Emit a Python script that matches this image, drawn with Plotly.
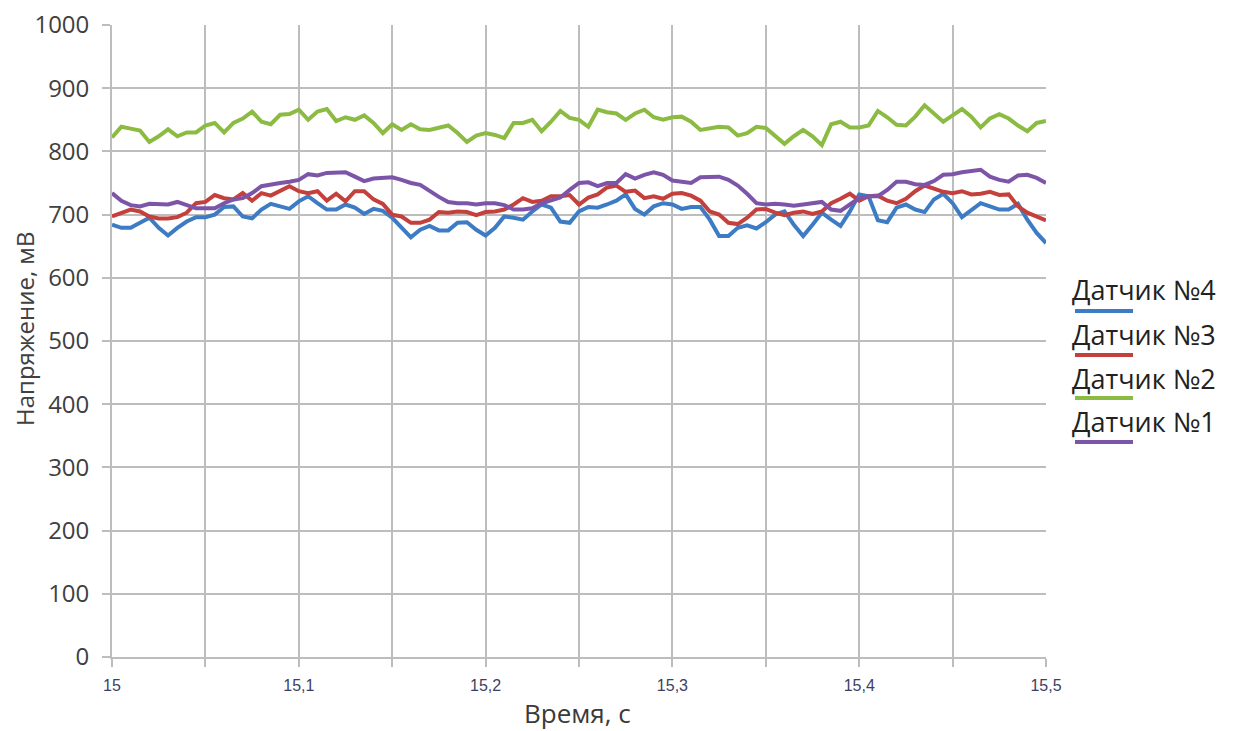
import numpy as np
import plotly.graph_objects as go

# Sampling times, s (step 5 ms)
time_s = [round(15.0 + 0.005 * i, 3) for i in range(101)]

# Sensor voltages, mV
sensor_4 = [684, 679, 679, 687, 695, 679, 667, 679, 689, 696,
            696, 700, 712, 713, 697, 694, 708, 717, 713, 709,
            721, 729, 718, 708, 708, 716, 711, 701, 709, 706,
            695, 679, 664, 676, 682, 675, 675, 687, 688, 676,
            667, 679, 697, 695, 692, 705, 716, 711, 689, 687,
            705, 712, 711, 716, 722, 732, 709, 700, 713, 718,
            716, 709, 712, 712, 692, 666, 666, 679, 683, 678,
            688, 700, 705, 684, 666, 684, 703, 692, 682, 705,
            732, 729, 691, 688, 711, 716, 708, 704, 724, 733,
            718, 696, 708, 718, 713, 708, 708, 717, 692, 671,
            655]

sensor_3 = [697, 703, 708, 705, 697, 694, 694, 696, 703, 718,
            720, 731, 726, 724, 734, 722, 734, 730, 737, 745,
            737, 734, 737, 722, 733, 721, 737, 737, 724, 717,
            700, 697, 687, 687, 692, 704, 703, 705, 704, 699,
            704, 705, 708, 716, 726, 720, 722, 729, 729, 731,
            716, 727, 732, 743, 746, 736, 738, 726, 729, 725,
            733, 734, 730, 722, 705, 700, 687, 685, 695, 708,
            709, 703, 699, 703, 705, 701, 705, 718, 725, 733,
            722, 729, 730, 722, 718, 725, 737, 746, 741, 736,
            734, 737, 732, 733, 736, 731, 732, 713, 703, 697,
            691]

sensor_2 = [822, 839, 836, 833, 815, 824, 835, 824, 830, 830,
            841, 845, 830, 845, 852, 863, 847, 843, 858, 859,
            866, 850, 863, 867, 848, 854, 850, 857, 845, 829,
            843, 834, 843, 835, 834, 838, 841, 829, 815, 825,
            829, 826, 821, 845, 845, 850, 832, 847, 864, 853,
            850, 839, 866, 862, 860, 850, 860, 866, 854, 850,
            854, 855, 847, 834, 837, 839, 838, 825, 829, 839,
            837, 824, 812, 824, 834, 824, 810, 843, 847, 838,
            838, 841, 864, 854, 842, 841, 855, 873, 860, 847,
            857, 867, 855, 838, 852, 859, 852, 841, 832, 845,
            848]

sensor_1 = [734, 722, 715, 713, 717, 716, 716, 720, 715, 710,
            710, 710, 718, 724, 726, 734, 745, 748, 750, 752,
            755, 764, 762, 766, 766, 767, 760, 753, 757, 758,
            759, 755, 750, 747, 737, 728, 720, 718, 718, 716,
            718, 718, 715, 708, 708, 710, 718, 722, 727, 739,
            750, 751, 745, 750, 750, 764, 757, 763, 767, 763,
            754, 752, 750, 759, 760, 760, 755, 746, 733, 718,
            716, 717, 716, 714, 716, 718, 720, 708, 706, 716,
            726, 729, 729, 739, 752, 752, 748, 747, 753, 763,
            764, 767, 769, 771, 760, 755, 752, 762, 763, 758,
            750]

series_names = ["Датчик №4", "Датчик №3", "Датчик №2", "Датчик №1"]
series_values = [sensor_4, sensor_3, sensor_2, sensor_1]
series_colors = ["#3d7cc4", "#c4403c", "#8cbb43", "#7d55a8"]

x_tick_vals = [15.0, 15.05, 15.1, 15.15, 15.2, 15.25, 15.3, 15.35, 15.4, 15.45, 15.5]
x_tick_text = ["15", "", "15,1", "", "15,2", "", "15,3", "", "15,4", "", "15,5"]
y_tick_vals = list(range(0, 1001, 100))

x_title = "Время, с"
y_title = "Напряжение, мВ"

# Figure geometry (pixels)
W, H = 1237, 731
L, R, T, B = 112, 191, 25, 74
PW, PH = W - L - R, H - T - B

def px_x(px):
    return (px - L) / PW

def px_y(py):
    return (H - B - py) / PH

fig = go.Figure()
# draw in order so that sensor 1 ends up on top
for name, vals, col in zip(series_names, series_values, series_colors):
    fig.add_trace(go.Scatter(
        x=time_s, y=vals, mode="lines", name=name,
        line=dict(color=col, width=4), showlegend=False,
    ))

grid_col = "#bdbdbd"
fig.update_xaxes(
    range=[15.0, 15.5], tickmode="array", tickvals=x_tick_vals, ticktext=x_tick_text,
    showgrid=True, gridcolor=grid_col, gridwidth=1.8,
    ticks="outside", ticklen=8, tickcolor=grid_col, tickwidth=1.8,
    showline=True, linecolor=grid_col, linewidth=1.8,
    zeroline=False, ticklabelstandoff=5, automargin=False,
    tickfont=dict(family="Liberation Sans Narrow, Liberation Sans, sans-serif",
                  size=16, color="#3b3f63"),
)
fig.update_yaxes(
    range=[0, 1000], tickmode="array", tickvals=y_tick_vals,
    showgrid=True, gridcolor=grid_col, gridwidth=1.8,
    ticks="outside", ticklen=8, tickcolor=grid_col, tickwidth=1.8,
    showline=True, linecolor=grid_col, linewidth=1.8,
    zeroline=False, ticklabelstandoff=8, automargin=False,
    tickfont=dict(family="Open Sans, sans-serif", size=24, color="#404040"),
)

annotations = [
    # axis titles
    dict(x=px_x(577), y=px_y(713), xref="paper", yref="paper",
         xanchor="center", yanchor="middle", showarrow=False, text=x_title,
         font=dict(family="Open Sans, sans-serif", size=26, color="#3a3a3a")),
    dict(x=px_x(24), y=px_y(329), xref="paper", yref="paper",
         xanchor="center", yanchor="middle", showarrow=False, text=y_title, textangle=-90,
         font=dict(family="Open Sans, sans-serif", size=24, color="#404040")),
]

# Legend: name above a short line sample, stacked on the right
legend_text_y = [289, 334, 378, 421]
legend_line_y = [311, 355, 398, 442]
shapes = []
for name, col, ty, ly in zip(series_names, series_colors, legend_text_y, legend_line_y):
    annotations.append(dict(
        x=px_x(1070), y=px_y(ty), xref="paper", yref="paper",
        xanchor="left", yanchor="middle", showarrow=False, text=name,
        font=dict(family="Open Sans, sans-serif", size=27, color="#222222"),
    ))
    shapes.append(dict(
        type="line", xref="paper", yref="paper",
        x0=px_x(1075), x1=px_x(1133), y0=px_y(ly), y1=px_y(ly),
        line=dict(color=col, width=4),
    ))

fig.update_layout(
    width=W, height=H,
    margin=dict(l=L, r=R, t=T, b=B, autoexpand=False),
    paper_bgcolor="white", plot_bgcolor="white",
    shapes=shapes, annotations=annotations,
)

fig.write_html("out.html")
